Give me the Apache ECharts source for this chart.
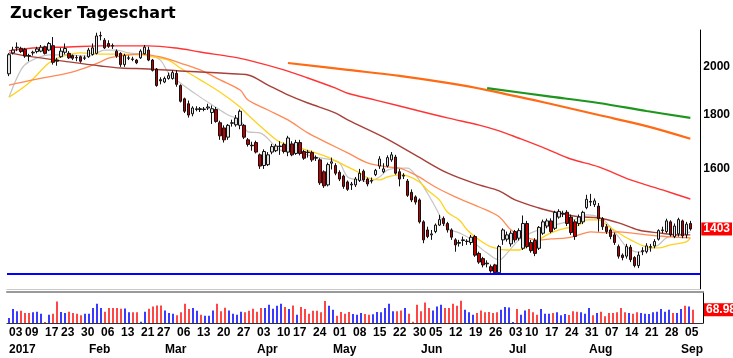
<!DOCTYPE html>
<html><head><meta charset="utf-8">
<script src="https://cdn.jsdelivr.net/npm/echarts@6/dist/echarts.min.js"></script>
<style>html,body{margin:0;padding:0;background:#fff}#c{width:733px;height:358px}</style>
</head><body><div id="c"></div>
<script>
const tradingDates = [
"2017-01-03","2017-01-04","2017-01-05","2017-01-06","2017-01-09","2017-01-10","2017-01-11","2017-01-12","2017-01-13","2017-01-17",
"2017-01-18","2017-01-19","2017-01-20","2017-01-23","2017-01-24","2017-01-25","2017-01-26","2017-01-27","2017-01-30","2017-01-31",
"2017-02-01","2017-02-02","2017-02-03","2017-02-06","2017-02-07","2017-02-08","2017-02-09","2017-02-10","2017-02-13","2017-02-14",
"2017-02-15","2017-02-16","2017-02-17","2017-02-21","2017-02-22","2017-02-23","2017-02-24","2017-02-27","2017-02-28","2017-03-01",
"2017-03-02","2017-03-03","2017-03-06","2017-03-07","2017-03-08","2017-03-09","2017-03-10","2017-03-13","2017-03-14","2017-03-15",
"2017-03-16","2017-03-17","2017-03-20","2017-03-21","2017-03-22","2017-03-23","2017-03-24","2017-03-27","2017-03-28","2017-03-29",
"2017-03-30","2017-03-31","2017-04-03","2017-04-04","2017-04-05","2017-04-06","2017-04-07","2017-04-10","2017-04-11","2017-04-12",
"2017-04-13","2017-04-17","2017-04-18","2017-04-19","2017-04-20","2017-04-21","2017-04-24","2017-04-25","2017-04-26","2017-04-27",
"2017-04-28","2017-05-01","2017-05-02","2017-05-03","2017-05-04","2017-05-05","2017-05-08","2017-05-09","2017-05-10","2017-05-11",
"2017-05-12","2017-05-15","2017-05-16","2017-05-17","2017-05-18","2017-05-19","2017-05-22","2017-05-23","2017-05-24","2017-05-25",
"2017-05-26","2017-05-30","2017-05-31","2017-06-01","2017-06-02","2017-06-05","2017-06-06","2017-06-07","2017-06-08","2017-06-09",
"2017-06-12","2017-06-13","2017-06-14","2017-06-15","2017-06-16","2017-06-19","2017-06-20","2017-06-21","2017-06-22","2017-06-23",
"2017-06-26","2017-06-27","2017-06-28","2017-06-29","2017-06-30","2017-07-03","2017-07-05","2017-07-06","2017-07-07","2017-07-10",
"2017-07-11","2017-07-12","2017-07-13","2017-07-14","2017-07-17","2017-07-18","2017-07-19","2017-07-20","2017-07-21","2017-07-24",
"2017-07-25","2017-07-26","2017-07-27","2017-07-28","2017-07-31","2017-08-01","2017-08-02","2017-08-03","2017-08-04","2017-08-07",
"2017-08-08","2017-08-09","2017-08-10","2017-08-11","2017-08-14","2017-08-15","2017-08-16","2017-08-17","2017-08-18","2017-08-21",
"2017-08-22","2017-08-23","2017-08-24","2017-08-25","2017-08-28","2017-08-29","2017-08-30","2017-08-31","2017-09-01","2017-09-05",
"2017-09-06","2017-09-07"];

const opens = [1970,2062,2085,2083,2078,2050,2062,2068,2070,2090,
2075,2095,2030,2045,2065,2060,2050,2042,2045,2038,
2045,2055,2060,2140,2120,2105,2095,2070,2060,2010,
2038,2035,2030,2040,2058,2075,2030,1990,1945,1935,
1950,1950,1972,1920,1865,1845,1805,1822,1825,1822,
1828,1810,1822,1770,1750,1715,1768,1762,1760,1760,
1705,1685,1695,1650,1612,1615,1660,1665,1680,1688,
1660,1690,1655,1695,1662,1660,1658,1640,1632,1590,
1545,1620,1612,1588,1575,1555,1545,1545,1560,1592,
1565,1558,1580,1610,1590,1610,1632,1642,1590,1575,
1558,1520,1505,1495,1425,1400,1385,1395,1415,1436,
1420,1400,1370,1362,1368,1365,1362,1380,1330,1315,
1302,1292,1297,1275,1370,1372,1358,1395,1375,1345,
1420,1362,1368,1345,1390,1412,1428,1405,1440,1450,
1455,1440,1425,1420,1425,1470,1490,1480,1475,1435,
1410,1400,1385,1350,1325,1322,1348,1318,1295,1335,
1335,1348,1352,1372,1398,1395,1425,1380,1388,1428,
1385,1420];
const highs = [2061,2090,2110,2090,2085,2058,2072,2090,2098,2095,
2112,2135,2040,2085,2105,2070,2055,2052,2050,2050,
2085,2105,2155,2160,2130,2120,2105,2078,2065,2058,
2050,2045,2035,2078,2098,2090,2035,1995,1955,1958,
1975,1985,1985,1925,1870,1858,1835,1835,1832,1832,
1845,1838,1832,1778,1760,1765,1782,1800,1822,1765,
1712,1698,1702,1655,1670,1660,1690,1690,1700,1695,
1720,1700,1705,1705,1668,1668,1665,1648,1638,1595,
1622,1640,1620,1595,1580,1560,1555,1572,1600,1598,
1570,1570,1600,1645,1620,1648,1660,1650,1600,1585,
1565,1530,1510,1500,1430,1410,1400,1420,1447,1442,
1425,1405,1375,1370,1380,1372,1385,1385,1335,1320,
1310,1298,1300,1355,1405,1395,1398,1400,1405,1445,
1428,1370,1375,1412,1432,1435,1436,1460,1465,1460,
1462,1448,1432,1448,1460,1512,1515,1500,1485,1440,
1418,1405,1392,1356,1330,1358,1355,1322,1335,1348,
1360,1358,1372,1402,1410,1435,1430,1420,1438,1432,
1425,1428];
const lows = [1960,2055,2070,2062,2040,2025,2050,2060,2065,2055,
2070,2010,2005,2040,2055,2035,2030,2025,2018,2030,
2040,2050,2055,2120,2080,2085,2080,2040,2000,2000,
2030,2025,2012,2035,2055,2025,1980,1915,1925,1930,
1945,1945,1915,1850,1808,1790,1795,1815,1812,1815,
1820,1765,1770,1705,1695,1705,1755,1755,1745,1708,
1680,1665,1655,1600,1600,1610,1652,1660,1650,1655,
1645,1645,1650,1648,1632,1640,1625,1628,1545,1535,
1540,1598,1578,1558,1532,1525,1528,1538,1555,1555,
1540,1550,1575,1600,1585,1605,1625,1580,1540,1565,
1505,1488,1480,1420,1360,1375,1370,1390,1412,1412,
1392,1370,1335,1350,1352,1355,1355,1320,1300,1290,
1290,1275,1270,1270,1355,1365,1350,1362,1368,1340,
1345,1332,1322,1340,1385,1405,1390,1400,1435,1440,
1412,1385,1370,1412,1418,1465,1475,1472,1395,1400,
1388,1372,1355,1315,1310,1315,1305,1290,1288,1325,
1330,1335,1345,1368,1390,1390,1380,1375,1380,1375,
1375,1398];
const closes = [2054,2075,2088,2068,2048,2048,2065,2080,2088,2060,
2105,2020,2025,2070,2082,2040,2038,2040,2025,2040,
2075,2085,2140,2142,2085,2092,2093,2048,2010,2050,
2040,2033,2018,2070,2088,2030,1985,1920,1940,1950,
1962,1975,1925,1855,1815,1800,1828,1825,1822,1824,
1832,1825,1775,1720,1705,1760,1770,1788,1815,1715,
1688,1683,1660,1610,1662,1650,1680,1682,1682,1662,
1712,1650,1695,1655,1638,1658,1632,1638,1552,1542,
1615,1625,1585,1565,1540,1530,1548,1565,1585,1562,
1548,1560,1595,1635,1600,1640,1650,1585,1565,1578,
1510,1495,1488,1425,1370,1380,1388,1415,1432,1420,
1400,1378,1355,1360,1370,1366,1378,1325,1305,1297,
1300,1280,1275,1350,1400,1385,1390,1370,1398,1420,
1350,1338,1330,1408,1425,1428,1395,1455,1458,1452,
1420,1392,1380,1440,1455,1497,1488,1492,1435,1410,
1395,1380,1362,1322,1318,1350,1312,1295,1325,1338,
1352,1350,1365,1398,1400,1428,1385,1412,1432,1382,
1418,1403];
const volumes = [25.9,72.4,60.4,63.8,51.7,51.7,55.2,58.6,48.3,5.2,
43.1,48.3,112.1,56.9,51.7,58.6,51.7,48.3,39.7,48.3,
48.3,77.6,100.0,77.6,58.6,77.6,77.6,77.6,74.2,75.9,
55.2,55.2,55.2,6.9,58.6,74.2,86.2,91.4,91.4,65.5,
51.7,48.3,39.7,55.2,100.0,72.4,77.6,63.8,43.1,37.9,
37.9,65.5,100.0,60.4,79.3,65.5,48.3,43.1,58.6,55.2,
63.8,74.2,58.6,77.6,77.6,94.8,74.2,89.7,100.0,82.8,
72.4,91.4,43.1,82.8,72.4,48.3,63.8,63.8,55.2,113.8,
89.7,69.0,37.9,56.9,48.3,56.9,46.6,43.1,51.7,46.6,
43.1,44.8,56.9,55.2,77.6,100.0,60.4,60.4,65.5,77.6,
48.3,6.9,94.8,60.4,106.9,77.6,65.5,86.2,94.8,77.6,
77.6,100.0,89.7,115.5,69.0,55.2,43.1,51.7,65.5,55.2,
56.9,51.7,55.2,69.0,82.8,81.0,5.2,72.4,43.1,65.5,
72.4,55.2,43.1,72.4,48.3,48.3,51.7,55.2,39.7,46.6,
41.4,60.4,58.6,55.2,48.3,77.6,39.7,51.7,58.6,34.5,
51.7,51.7,55.2,77.6,55.2,51.7,48.3,55.2,51.7,48.3,
46.6,55.2,58.6,72.4,58.6,69.0,51.7,51.7,72.4,89.7,
86.2,68.98];

// moving-average lines: [trading-day index, value]
const maGray = [[0,1872],[3,1987],[5,2022],[10,2053],[15,2053],[20,2048],[24,2075],[27,2075],[30,2062],[35,2053],[38,2030],[40,1974],[43,1931],[48,1872],[51,1840],[55,1800],[58,1781],[60,1735],[63,1731],[68,1668],[73,1657],[77,1642],[81,1632],[83,1621],[85,1572],[88,1562],[90,1555],[93,1572],[95,1596],[98,1603],[100,1603],[102,1579],[105,1518],[107,1472],[110,1406],[113,1391],[115,1379],[118,1349],[120,1331],[123,1311],[125,1331],[128,1370],[131,1391],[135,1409],[140,1425],[143,1437],[145,1447],[148,1441],[150,1422],[153,1379],[155,1349],[158,1334],[160,1340],[163,1355],[165,1376],[168,1385],[171,1394]];
const maYellow = [[0,1872],[5,1931],[10,2017],[13,2044],[18,2062],[23,2057],[27,2057],[33,2053],[35,2048],[40,2030],[43,1995],[48,1944],[53,1892],[58,1832],[60,1800],[65,1731],[68,1697],[73,1675],[77,1657],[80,1642],[85,1607],[88,1586],[90,1569],[93,1562],[95,1572],[98,1579],[100,1576],[103,1555],[105,1528],[108,1495],[110,1456],[113,1431],[115,1400],[118,1370],[121,1349],[125,1340],[128,1340],[130,1349],[133,1370],[135,1385],[138,1400],[140,1406],[143,1415],[145,1431],[148,1431],[150,1415],[153,1391],[156,1370],[160,1349],[163,1346],[166,1355],[170,1364],[171,1376]];
const maSalmon = [[0,1922],[6,1944],[15,1974],[19,1995],[23,2022],[25,2039],[28,2048],[33,2057],[38,2044],[43,2017],[48,1987],[53,1944],[58,1901],[60,1860],[65,1820],[70,1781],[75,1731],[80,1693],[85,1657],[90,1621],[95,1607],[98,1603],[102,1579],[107,1538],[112,1505],[118,1472],[123,1441],[126,1400],[130,1376],[133,1370],[136,1373],[140,1376],[143,1385],[146,1394],[150,1391],[153,1394],[156,1391],[160,1385],[163,1382],[166,1379],[171,1376]];
const maBrown = [[0,2062],[6,2044],[15,2022],[23,2004],[28,1995],[35,1991],[43,1982],[48,1978],[56,1970],[60,1965],[65,1922],[70,1881],[75,1848],[82,1808],[85,1781],[94,1715],[102,1649],[110,1586],[118,1545],[123,1525],[127,1495],[133,1469],[138,1453],[143,1441],[148,1437],[153,1422],[158,1400],[163,1391],[168,1385],[171,1385]];
const maRed = [[0,2071],[6,2084],[15,2089],[23,2094],[31,2094],[35,2094],[42,2084],[48,2066],[56,2044],[60,2030],[69,1987],[75,1952],[82,1909],[85,1888],[92,1860],[102,1820],[110,1789],[118,1761],[123,1739],[128,1711],[135,1671],[141,1635],[148,1607],[156,1562],[164,1528],[171,1498]];
const maOrange = [[70,2017],[85,1987],[98,1961],[110,1931],[120,1901],[135,1848],[148,1800],[160,1757],[171,1709]];
const maGreen = [[120,1909],[135,1876],[148,1848],[160,1816],[171,1789]];

const supportLevel = 1272;
const priceTicks = [1600, 1800, 2000];
const monthNames = ['Jan','Feb','Mar','Apr','May','Jun','Jul','Aug','Sep','Oct','Nov','Dec'];

const xCats = tradingDates.concat(['', '']);
const dow = s => new Date(s + 'T00:00:00Z').getUTCDay();
const isWeekStart = i => {
  if (i >= tradingDates.length) return false;
  if (i === 0) return true;
  const a = new Date(tradingDates[i - 1] + 'T00:00:00Z'), b = new Date(tradingDates[i] + 'T00:00:00Z');
  return dow(tradingDates[i]) < dow(tradingDates[i - 1]) || (b - a) >= 7 * 864e5;
};
const isMonthStart = i => {
  if (i >= tradingDates.length) return false;
  return i === 0 || tradingDates[i].slice(5, 7) !== tradingDates[i - 1].slice(5, 7);
};

const lastClose = closes[closes.length - 1];
const lastVol = volumes[volumes.length - 1];
const labelFont = { fontFamily: 'Liberation Sans, Arial, sans-serif', fontWeight: 'bold', fontSize: 12, color: '#000' };
const tagLabel = (text) => ({ show: true, position: 'end', distance: 1, formatter: text,
  backgroundColor: '#ff0000', color: '#fff', fontWeight: 'bold', fontSize: 12,
  fontFamily: 'Liberation Sans, Arial, sans-serif', padding: [1, 2, 0, 2] });
const hiddenLine = { color: 'rgba(0,0,0,0)', width: 0, type: 'solid' };

const candleData = opens.map((o, i) => [o, closes[i], lows[i], highs[i]]);
const volData = volumes.map((v, i) => ({ value: v, itemStyle: { color: closes[i] >= opens[i] ? '#3b3bff' : '#ff4646' } }));

const maLine = (name, data, color, width) => ({
  name, type: 'line', xAxisIndex: 0, yAxisIndex: 0, data, showSymbol: false, smooth: 0.35,
  lineStyle: { color, width }, z: 2, silent: true
});

const chart = echarts.init(document.getElementById('c'));
chart.setOption({
  animation: false,
  backgroundColor: '#fff',
  title: { text: 'Zucker Tageschart', left: 5, top: 1,
    textStyle: { fontFamily: 'DejaVu Sans', fontWeight: 'bold', fontSize: 16, color: '#000' } },
  grid: [
    { left: 7, right: 30, top: 30, height: 259 },
    { left: 7, right: 30, top: 292, height: 31 }
  ],
  xAxis: [
    { type: 'category', gridIndex: 0, data: xCats, boundaryGap: true,
      axisLine: { show: true, lineStyle: { color: '#c8c8c8', width: 1 } },
      axisTick: { show: false }, axisLabel: { show: false }, splitLine: { show: false } },
    { type: 'category', gridIndex: 1, data: xCats, boundaryGap: true, position: 'bottom',
      axisLine: { show: true, lineStyle: { color: '#333', width: 1 } },
      axisTick: { show: false }, splitLine: { show: false },
      axisLabel: Object.assign({ interval: (i) => isWeekStart(i), align: 'left', margin: 4,
        formatter: (v) => v ? v.slice(8) : '' }, labelFont) },
    { type: 'category', gridIndex: 1, data: xCats, boundaryGap: true, position: 'bottom', offset: 17,
      axisLine: { show: false }, axisTick: { show: false }, splitLine: { show: false },
      axisLabel: Object.assign({ interval: (i) => isMonthStart(i), align: 'left', margin: 4,
        formatter: (v, i) => i === 0 ? v.slice(0, 4) : (v ? monthNames[+v.slice(5, 7) - 1] : '') }, labelFont) },
    { type: 'category', gridIndex: 1, data: xCats, position: 'top',
      axisLine: { show: true, lineStyle: { color: '#9a9a9a', width: 2 } },
      axisTick: { show: false }, axisLabel: { show: false }, splitLine: { show: false } }
  ],
  yAxis: [
    { type: 'log', logBase: 10, gridIndex: 0, position: 'right', min: 1230.4, max: 2168,
      axisLine: { show: true, lineStyle: { color: '#000', width: 1 } },
      axisTick: { show: false }, splitLine: { show: false }, minorTick: { show: false },
      axisLabel: Object.assign({ customValues: priceTicks, margin: 3,
        formatter: (v) => String(Math.round(v)) }, labelFont) },
    { type: 'value', gridIndex: 1, position: 'right', min: 0, max: 161,
      axisLine: { show: true, lineStyle: { color: '#000', width: 1 } },
      axisTick: { show: false }, splitLine: { show: false }, axisLabel: { show: false } }
  ],
  series: [
    maLine('MA-gray', maGray, '#c4c4c4', 1.2),
    maLine('MA-yellow', maYellow, '#ffd21a', 1.3),
    maLine('MA-salmon', maSalmon, '#ff8a55', 1.3),
    maLine('MA-brown', maBrown, '#a8403a', 1.4),
    maLine('MA-red', maRed, '#ff3535', 1.4),
    maLine('MA-orange', maOrange, '#ff6a14', 2.2),
    maLine('MA-green', maGreen, '#1e961e', 2.2),
    { name: 'Zucker', type: 'candlestick', xAxisIndex: 0, yAxisIndex: 0, data: candleData,
      barWidth: 3, z: 3,
      itemStyle: { color: '#e4e4e4', color0: '#c00000', borderColor: '#111', borderColor0: '#111', borderWidth: 1 },
      markLine: { silent: true, symbol: 'none', animation: false,
        data: [
          { yAxis: supportLevel, lineStyle: { color: '#0000ff', width: 2, type: 'solid' }, label: { show: false } },
          { yAxis: lastClose, lineStyle: hiddenLine, label: tagLabel(String(lastClose)) }
        ] } },
    { name: 'Volumen', type: 'bar', xAxisIndex: 1, yAxisIndex: 1, data: volData, barWidth: 2,
      markLine: { silent: true, symbol: 'none', animation: false,
        data: [ { yAxis: lastVol, lineStyle: hiddenLine, label: tagLabel(lastVol.toFixed(2)) } ] } }
  ]
});
</script>
</body></html>
